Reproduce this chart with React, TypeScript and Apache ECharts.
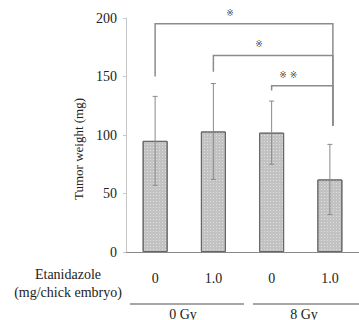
import React, { useEffect, useRef } from "react";
import * as echarts from "echarts";

const categories = ["0", "1.0", "0", "1.0"];
const means = [95, 103, 102, 62];
const sds = [38, 41, 27, 30];
const groupLabels = ["0 Gy", "8 Gy"];
// bracket: [fromIndex, toIndex, topValue, leftBottomValue, rightBottomValue, label]
const brackets: [number, number, number, number, number, string][] = [
  [0, 3, 195, 150, 108, "※"],
  [1, 3, 168, 154, 108, "※"],
  [2, 3, 142, 138, 108, "※ ※"],
];

const SERIF = "'Liberation Serif', 'Times New Roman', serif";

export default function App() {
  const ref = useRef<HTMLDivElement>(null);
  useEffect(() => {
    const chart = echarts.init(ref.current!, null, { renderer: "svg" });
    const option: any = {
      animation: false,
      grid: { left: 126, top: 18, bottom: 68, width: 244 },
      xAxis: {
        type: "category",
        data: categories,
        axisLine: { lineStyle: { color: "#888", width: 1 } },
        axisTick: { show: false },
        axisLabel: { fontFamily: SERIF, fontSize: 14, color: "#222", margin: 19 },
      },
      yAxis: {
        type: "value",
        min: 0,
        max: 200,
        interval: 50,
        splitLine: { show: false },
        axisLine: { show: true, lineStyle: { color: "#c8c8c8" } },
        axisTick: { show: true, length: 3, lineStyle: { color: "#c8c8c8" } },
        axisLabel: { fontFamily: SERIF, fontSize: 14, color: "#222", margin: 9 },
      },
      series: [
        {
          type: "bar",
          data: means,
          barWidth: 25,
          itemStyle: {
            color: "#c2c2c2",
            borderColor: "#666",
            borderWidth: 1,
            decal: {
              symbol: "rect",
              symbolSize: 1,
              dashArrayX: [1, 2],
              dashArrayY: [1, 2],
              color: "rgba(255,255,255,0.45)",
            },
          },
        },
        {
          type: "custom",
          data: means.map((m, i) => [i, m - sds[i], m + sds[i]]),
          encode: { x: 0, y: [1, 2] },
          z: 5,
          itemStyle: { color: "#8a8a8a" },
          renderItem: (params: any, api: any) => {
            const x = api.value(0);
            const lo = api.coord([x, api.value(1)]);
            const hi = api.coord([x, api.value(2)]);
            const st = { stroke: "#8a8a8a", lineWidth: 1 };
            return {
              type: "group",
              children: [
                { type: "line", shape: { x1: lo[0], y1: lo[1], x2: hi[0], y2: hi[1] }, style: st },
                { type: "line", shape: { x1: hi[0] - 2.5, y1: hi[1], x2: hi[0] + 2.5, y2: hi[1] }, style: st },
                { type: "line", shape: { x1: lo[0] - 2.5, y1: lo[1], x2: lo[0] + 2.5, y2: lo[1] }, style: st },
              ],
            };
          },
        },
        {
          type: "custom",
          data: brackets.map((b) => [b[0], b[1], b[2], b[3], b[4]]),
          encode: { x: 0, y: 2 },
          z: 6,
          clip: false,
          colorBy: "series",
          itemStyle: { color: "#555" },
          renderItem: (params: any, api: any) => {
            const b = brackets[params.dataIndex];
            const lt = api.coord([b[0], b[2]]);
            const lb = api.coord([b[0], b[3]]);
            const rt = api.coord([b[1], b[2]]);
            const rb = api.coord([b[1], b[4]]);
            const rx = rt[0] + 3;
            const st = { stroke: "#8c8c8c", lineWidth: 1.5 };
            const mid = (lt[0] + rx) / 2 - 14;
            return {
              type: "group",
              children: [
                { type: "polyline", shape: { points: [[lb[0], lb[1]], [lt[0], lt[1]], [rx, rt[1]], [rx, rb[1]]] }, style: { ...st, fill: null } },
                {
                  type: "text",
                  x: mid,
                  y: lt[1] - 11,
                  style: {
                    text: b[5],
                    fontSize: 9,
                    fontFamily: "'DejaVu Sans', 'Noto Sans CJK JP'",
                    fill: "rgba(60,60,60,0.98)",
                    align: "center",
                    verticalAlign: "middle",
                  },
                },
              ],
            };
          },
        },
      ],
      graphic: [
        {
          type: "text",
          x: 78,
          y: 149,
          rotation: Math.PI / 2,
          style: {
            text: "Tumor weight (mg)",
            fontFamily: SERIF,
            fontSize: 13,
            fill: "#222",
            align: "center",
            verticalAlign: "middle",
          },
        },
        {
          type: "text",
          x: 68,
          y: 274,
          style: { text: "Etanidazole", fontFamily: SERIF, fontSize: 14, fill: "#222", align: "center", verticalAlign: "middle" },
        },
        {
          type: "text",
          x: 68,
          y: 292,
          style: { text: "(mg/chick embryo)", fontFamily: SERIF, fontSize: 14, fill: "#222", align: "center", verticalAlign: "middle" },
        },
        { type: "line", shape: { x1: 130, y1: 304, x2: 244, y2: 304 }, style: { stroke: "#888", lineWidth: 1.5 } },
        { type: "line", shape: { x1: 253, y1: 304, x2: 359, y2: 304 }, style: { stroke: "#888", lineWidth: 1.5 } },
        {
          type: "text",
          x: 183,
          y: 314,
          style: { text: groupLabels[0], fontFamily: SERIF, fontSize: 14, fill: "#222", align: "center", verticalAlign: "middle" },
        },
        {
          type: "text",
          x: 304,
          y: 314,
          style: { text: groupLabels[1], fontFamily: SERIF, fontSize: 14, fill: "#222", align: "center", verticalAlign: "middle" },
        },
      ],
    };
    chart.setOption(option);
    return () => chart.dispose();
  }, []);
  return <div ref={ref} style={{ width: 359, height: 320, position: "absolute", left: 0, top: 0 }} />;
}
